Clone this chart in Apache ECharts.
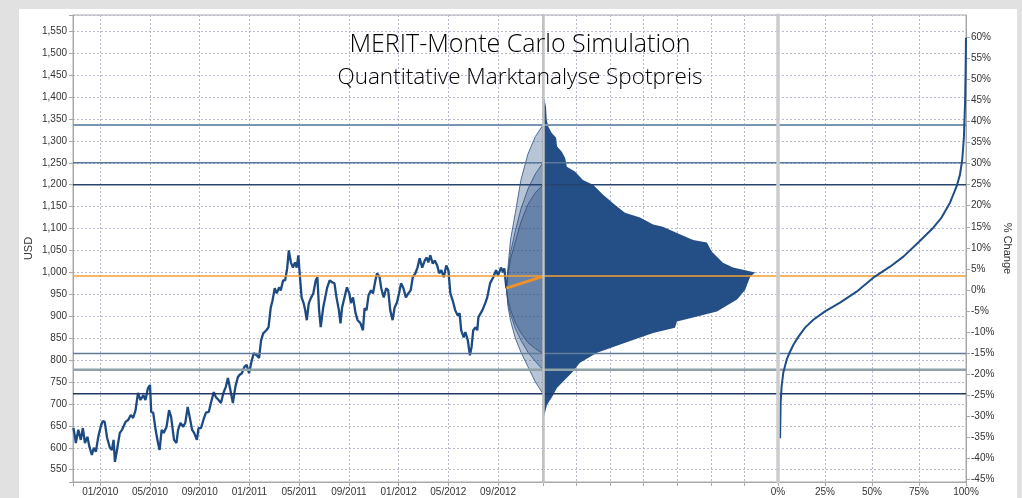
<!DOCTYPE html>
<html><head><meta charset="utf-8">
<script src="https://cdn.jsdelivr.net/npm/echarts@6/dist/echarts.min.js"></script>
<style>
html,body{margin:0;padding:0;width:1022px;height:498px;background:#e1e1e1;overflow:hidden}
#panel{position:absolute;left:19px;top:9px;width:998px;height:489px;background:#fff}
#chart{position:absolute;left:0;top:0;width:1022px;height:498px}
</style></head><body>
<div id="panel"></div><div id="chart"></div>
<script>
// ---- data ----
// price history: x in days since 2010-01-01, y in USD
const priceDays = [-66,-62,-60,-54,-48,-43,-38,-32,-27,-21,-16,-11,-5,1,6,11,17,24,29,33,36,40,47,52,60,67,73,79,85,91,97,104,109,115,120,123,128,134,140,144,149,154,161,167,172,179,185,189,195,202,207,213,218,224,229,236,240,246,252,258,265,270,277,282,289,295,301,307,312,318,324,330,336,340,346,352,358,364,371,376,383,389,394,399,406,411,416,420,425,430,436,440,446,451,456,460,465,470,475,479,483,487,491,496,500,504,509,515,520,526,530,534,538,544,549,554,560,567,572,577,583,587,591,597,603,609,613,618,624,629,636,642,646,651,656,662,667,673,677,683,687,693,699,704,709,715,720,726,731,736,742,748,754,760,765,771,776,781,787,793,798,802,807,813,818,824,829,834,840,846,851,856,863,868,874,879,883,889,893,899,904,908,912,918,922,925,935,942,947,954,962,969,974,981,986,989,994];
const priceValues = [645,625,611,641,618,645,611,625,602,584,600,591,625,648,661,659,623,600,595,618,568,591,634,641,659,664,675,668,686,725,709,720,709,736,743,682,680,641,611,595,641,634,648,686,670,618,611,641,657,648,657,693,670,641,634,618,645,645,664,680,682,702,727,716,709,702,725,739,759,732,702,739,761,766,770,784,789,770,800,816,811,805,845,861,868,875,920,936,964,952,966,959,982,982,1009,1050,1023,1011,1023,1011,1039,989,943,930,914,891,930,943,952,982,989,914,875,920,943,966,982,977,975,943,914,884,920,943,966,952,930,943,907,891,884,868,918,914,948,959,952,982,998,989,964,943,964,959,914,891,920,932,952,975,964,943,952,959,989,998,1011,1032,1011,1027,1034,1023,1039,1020,1027,1016,998,1005,989,1016,1005,952,932,914,902,907,868,852,864,845,811,830,868,875,868,898,914,930,943,975,989,1005,993,1011,1000,1009,964];

// simulation fan (days since 2010-01-01)
const fanDays    = [994, 998, 1004, 1016, 1030, 1047, 1065, 1084];
const outerUpper = [964, 1013, 1074, 1136, 1211, 1270, 1310, 1336];
const outerLower = [964, 922, 890, 850, 818, 785, 750, 723];
const midUpper   = [964, 1000, 1045, 1095, 1145, 1190, 1225, 1250];
const midLower   = [964, 930, 905, 872, 845, 818, 797, 778];
const innerUpper = [964, 995, 1030, 1070, 1115, 1155, 1182, 1200];
const innerLower = [964, 938, 915, 885, 862, 840, 826, 815];
const medianDays = [994, 1084];
const medianValues = [964, 991];

// distribution of simulated end prices
const distPrice   = [1409,1378,1348,1332,1318,1307,1287,1275,1261,1241,1230,1211,1200,1177,1154,1136,1125,1109,1104,1090,1074,1068,1047,1022,1011,1000,990,960,938,911,897,888,874,862,846,830,817,794,771,751,737,716,698,671,664];
const distDensity = [0,0.09,0.11,0.16,0.26,0.39,0.42,0.56,0.66,0.71,0.95,1.19,1.49,1.79,2.14,2.44,2.89,3.28,3.57,3.99,4.47,4.88,5.03,5.36,5.66,6.32,6.17,6.02,5.78,5.18,4.47,3.99,3.93,3.28,2.68,2.09,1.61,1.10,0.86,0.60,0.42,0.27,0.12,0.03,0];

// cumulative distribution
const cdfPct   = [1.1,1.4,1.9,2.8,4.6,6.4,8.2,10.8,14.4,18.8,25,33,41.8,50.7,59.6,66.7,74.6,82.6,87,91.5,95,96.8,98,98.9,99.5,99.8,100];
const cdfPrice = [622,703,739,771,801,819,835,853,874,892,911,931,956,988,1013,1036,1068,1102,1125,1159,1196,1223,1257,1309,1387,1462,1535];

// reference levels
const refLevels = [1336, 1250, 1200, 992, 815, 778, 723];

// axes
const xTickMonths = [0, 4, 8, 12, 16, 20, 24, 28, 32]; // months since 01/2010
const xTickLabels = ['01/2010','05/2010','09/2010','01/2011','05/2011','09/2011','01/2012','05/2012','09/2012'];
const yTicks   = [550,600,650,700,750,800,850,900,950,1000,1050,1100,1150,1200,1250,1300,1350,1400,1450,1500,1550];
const pctTicks = [-45,-40,-35,-30,-25,-20,-15,-10,-5,0,5,10,15,20,25,30,35,40,45,50,55,60];
const basePrice = 960;
const yMin = 522, yMax = 1587;
const dayMin = -67, dayMax = 1084;

// calendar conversion: days since 2010-01-01 -> fractional months since 01/2010
function toMonth(d) {
  const dt = new Date(Date.UTC(2010, 0, 1) + d * 86400000);
  const y = dt.getUTCFullYear(), m = dt.getUTCMonth();
  const dim = new Date(Date.UTC(y, m + 1, 0)).getUTCDate();
  return (y - 2010) * 12 + m + (dt.getUTCDate() - 1) / dim;
}

// ---- styles ----
const refColors = ['#7b96b3','#58789c','#27446e','#f4a032','#5f7d9b','#8ea2a8','#22396a'];
const refWidths = [2, 1.5, 1.5, 1.5, 1.5, 2.5, 1.5];
const gridDash = {color:'#b9b9cf', type:[2,2], width:1};
const axisGray = '#a8a8a8';
const labelFont = {fontFamily:'Liberation Sans', fontSize:10, color:'#333'};

const chart = echarts.init(document.getElementById('chart'), null, {renderer:'canvas'});

function bandSeries(upper, lower) {
  return {
    type:'custom', xAxisIndex:0, yAxisIndex:0, z:3, silent:true,
    data: fanDays.map((d,i)=>[toMonth(d), upper[i], lower[i]]),
    renderItem: function(params, api){
      if (params.dataIndex !== 0) return null;
      const top = fanDays.map((d,i)=>api.coord([toMonth(d), upper[i]]));
      const bot = fanDays.map((d,i)=>api.coord([toMonth(d), lower[i]])).reverse();
      return {type:'polygon', shape:{points: top.concat(bot)},
        style:{fill:'rgba(34,76,132,0.32)', stroke:'#2c4f7f', lineWidth:0.8}};
    }
  };
}
function refSeries(xi, yi, xStart) {
  return {
    type:'custom', xAxisIndex:xi, yAxisIndex:yi, z:6, silent:true,
    data: refLevels.map((v,i)=>[xStart, v, i]),
    renderItem: function(params, api){
      const i = api.value(2);
      const y = api.coord([api.value(0), api.value(1)])[1];
      const cs = params.coordSys;
      return {type:'line', shape:{x1:cs.x, y1:y, x2:cs.x+cs.width, y2:y},
        style:{stroke:refColors[i], lineWidth:refWidths[i]}};
    }
  };
}
const priceGridY = {type:'value', min:yMin, max:yMax, splitNumber:21, minInterval:50, maxInterval:50};

const option = {
  animation:false,
  backgroundColor:'transparent',
  graphic:[
    {type:'text', x:520, y:45, z:100, style:{text:'MERIT-Monte Carlo Simulation', fontFamily:'Open Sans', fontWeight:300, fontSize:25, fill:'#000', align:'center', verticalAlign:'middle'}},
    {type:'text', x:520, y:78, z:100, style:{text:'Quantitative Marktanalyse Spotpreis', fontFamily:'Open Sans', fontWeight:300, fontSize:22.5, fill:'#000', align:'center', verticalAlign:'middle'}}
  ],
  grid:[
    {left:73, top:15, width:470, height:467, show:true, borderColor:axisGray, borderWidth:1, backgroundColor:'transparent'},
    {left:543, top:15, width:235, height:467, show:true, borderColor:axisGray, borderWidth:1, backgroundColor:'transparent'},
    {left:778, top:15, width:188, height:467, show:true, borderColor:axisGray, borderWidth:1, backgroundColor:'transparent'}
  ],
  xAxis:[
    {gridIndex:0, type:'value', min:toMonth(dayMin), max:toMonth(dayMax), splitNumber:10, minInterval:4, maxInterval:4,
     axisLine:{show:true, onZero:false, lineStyle:{color:axisGray}},
     axisTick:{show:true, length:4, lineStyle:{color:axisGray}},
     axisLabel:{...labelFont, margin:5, customValues:xTickMonths,
       formatter:(v)=>{const k=xTickMonths.indexOf(Math.round(v)); return k>=0?xTickLabels[k]:'';}},
     splitLine:{show:true, lineStyle:gridDash}},
    {gridIndex:1, type:'value', min:0, max:7, interval:1,
     axisLine:{show:true, onZero:false, lineStyle:{color:axisGray}},
     axisTick:{show:true, length:4, lineStyle:{color:axisGray}},
     axisLabel:{show:false},
     splitLine:{show:true, lineStyle:gridDash}},
    {gridIndex:2, type:'value', min:0, max:100, interval:25,
     axisLine:{show:true, onZero:false, lineStyle:{color:axisGray}},
     axisTick:{show:true, length:4, lineStyle:{color:axisGray}},
     axisLabel:{...labelFont, margin:5, formatter:'{value}%', showMinLabel:true, showMaxLabel:true},
     splitLine:{show:true, lineStyle:gridDash}}
  ],
  yAxis:[
    // 0: left USD axis
    {gridIndex:0, ...priceGridY, position:'left',
     name:'USD', nameLocation:'middle', nameGap:39, nameRotate:90,
     nameTextStyle:{fontFamily:'Liberation Sans', fontSize:11, color:'#333'},
     axisLine:{show:true, onZero:false, lineStyle:{color:axisGray}},
     axisTick:{show:true, length:4, lineStyle:{color:axisGray}},
     axisLabel:{...labelFont, margin:6, customValues:yTicks, formatter:(v)=>Number(v).toLocaleString('en-US')},
     splitLine:{show:true, lineStyle:gridDash}},
    // 1: grid-2 horizontal grid lines
    {gridIndex:1, ...priceGridY, position:'left',
     axisLine:{show:false, onZero:false}, axisTick:{show:false}, axisLabel:{show:false},
     splitLine:{show:true, lineStyle:gridDash}},
    // 2: separator at grid-2 left
    {gridIndex:1, type:'value', min:yMin, max:yMax, position:'left', z:20,
     axisLine:{show:true, onZero:false, lineStyle:{color:'#c3c3c3', width:2.5}}, axisTick:{show:false}, axisLabel:{show:false}, splitLine:{show:false}},
    // 3: grid-3 horizontal grid lines (price scale for CDF)
    {gridIndex:2, ...priceGridY, position:'left',
     axisLine:{show:false, onZero:false}, axisTick:{show:false}, axisLabel:{show:false},
     splitLine:{show:true, lineStyle:gridDash}},
    // 4: separator at grid-3 left
    {gridIndex:2, type:'value', min:yMin, max:yMax, position:'left', z:20,
     axisLine:{show:true, onZero:false, lineStyle:{color:'#cdcdcd', width:3.5}}, axisTick:{show:false}, axisLabel:{show:false}, splitLine:{show:false}},
    // 5: right percent axis
    {gridIndex:2, type:'value', position:'right',
     min:(yMin/basePrice-1)*100, max:(yMax/basePrice-1)*100,
     name:'% Change', nameLocation:'middle', nameGap:36, nameRotate:-90,
     nameTextStyle:{fontFamily:'Liberation Sans', fontSize:11, color:'#333'},
     axisLine:{show:true, onZero:false, lineStyle:{color:axisGray}},
     axisTick:{show:true, length:4, lineStyle:{color:axisGray}, customValues:pctTicks},
     axisLabel:{...labelFont, margin:5, customValues:pctTicks, formatter:(v)=>Math.round(v)+'%'},
     splitLine:{show:false}}
  ],
  series:[
    bandSeries(outerUpper, outerLower),
    bandSeries(midUpper, midLower),
    bandSeries(innerUpper, innerLower),
    {type:'line', xAxisIndex:0, yAxisIndex:0, z:5, symbol:'none', silent:true,
     data: priceDays.map((d,i)=>[toMonth(d), priceValues[i]]),
     lineStyle:{color:'#1c4a83', width:2.3}},
    refSeries(0, 0, toMonth(dayMin)),
    {type:'line', xAxisIndex:0, yAxisIndex:0, z:8, symbol:'none', silent:true,
     data: medianDays.map((d,i)=>[toMonth(d), medianValues[i]]),
     lineStyle:{color:'#f0922a', width:3}},
    {type:'custom', xAxisIndex:1, yAxisIndex:1, z:3, silent:true,
     data: distPrice.map((p,i)=>[distDensity[i], p]),
     renderItem: function(params, api){
       if (params.dataIndex !== 0) return null;
       const pts = distPrice.map((p,i)=>api.coord([distDensity[i], p]));
       return {type:'polygon', shape:{points:pts}, style:{fill:'#234f86'}};
     }},
    refSeries(1, 1, 0),
    refSeries(2, 3, 0),
    {type:'line', xAxisIndex:2, yAxisIndex:3, z:7, symbol:'none', silent:true,
     data: cdfPct.map((c,i)=>[c, cdfPrice[i]]),
     lineStyle:{color:'#1f4e86', width:2}}
  ]
};
chart.setOption(option);
</script>
</body></html>
